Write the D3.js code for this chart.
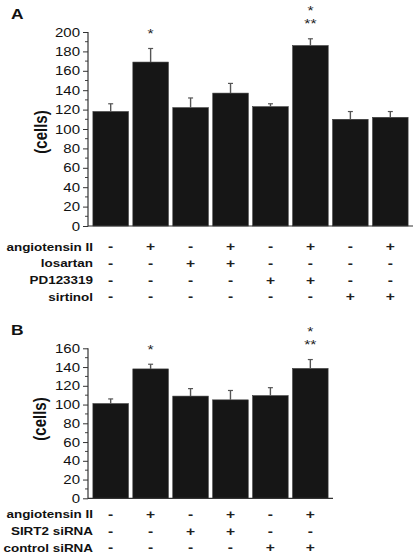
<!DOCTYPE html>
<html><head><meta charset="utf-8">
<script src="https://cdn.jsdelivr.net/npm/d3@7"></script>
<style>html,body{margin:0;padding:0;background:#fff;}svg{display:block;}</style>
</head><body>
<svg id="c" width="420" height="555"></svg>
<script>
// ---------- DATA ----------
const groupsA = ["1","2","3","4","5","6","7","8"];
const meanA = [118, 169, 122, 137, 123, 186, 110, 112];
const errA  = [126, 183, 132, 147, 126, 193, 118, 118];
const starsA = [[], ["*"], [], [], [], ["*","**"], [], []];
const rowLabelsA = ["angiotensin II", "losartan", "PD123319", "sirtinol"];
const angiotensinA = ["-","+","-","+","-","+","-","+"];
const losartanA    = ["-","-","+","+","-","-","-","-"];
const pdA          = ["-","-","-","-","+","+","-","-"];
const sirtinolA    = ["-","-","-","-","-","-","+","+"];
const ticksA = [0,20,40,60,80,100,120,140,160,180,200];

const groupsB = ["1","2","3","4","5","6"];
const meanB = [101, 138, 109, 105, 109.5, 138.5];
const errB  = [106, 143, 117, 115, 118, 148];
const starsB = [[], ["*"], [], [], [], ["*","**"]];
const rowLabelsB = ["angiotensin II", "SIRT2 siRNA", "control siRNA"];
const angiotensinB = ["-","+","-","+","-","+"];
const sirt2B       = ["-","-","+","+","-","-"];
const controlB     = ["-","-","-","-","+","+"];
const ticksB = [0,20,40,60,80,100,120,140,160];

// ---------- DRAW ----------
const svg = d3.select("#c");
const SX = 1.2;
const FONT = "Liberation Sans, Arial, Helvetica, sans-serif";

function txt(g, x, y, s, opt) {
  return g.append("text")
    .attr("transform", `translate(${x},${y}) scale(${SX},1)`)
    .attr("font-family", FONT)
    .attr("font-size", opt.size)
    .attr("font-weight", opt.weight || "normal")
    .attr("text-anchor", opt.anchor || "start")
    .attr("fill", opt.fill || "#111")
    .text(s);
}

function panel(cfg) {
  const g = svg.append("g");
  const y = d3.scaleLinear().domain([0, cfg.ymax]).range([cfg.y0, cfg.y1]);
  const x = d3.scaleBand().domain(cfg.groups).range([90.5, 90.5 + 40 * cfg.groups.length])
    .paddingInner(0.11).paddingOuter(0.06);

  // letter
  txt(g, 11, cfg.letterY, cfg.letter, {size: 14.5, weight: "bold"});

  // y axis with minor ticks
  const ax = g.append("g").attr("transform", "translate(88,0)")
    .call(d3.axisLeft(y).tickValues(cfg.ticks).tickSize(5).tickFormat(""));
  ax.select(".domain").remove();
  ax.selectAll("line").attr("stroke", "#333").attr("stroke-width", 1);
  const minors = cfg.ticks.slice(0, -1).map(t => t + 10);
  g.selectAll(null).data(minors).join("line")
    .attr("x1", 85).attr("x2", 88)
    .attr("y1", d => y(d)).attr("y2", d => y(d))
    .attr("stroke", "#444").attr("stroke-width", 1);
  g.append("line").attr("x1", 88).attr("x2", 88)
    .attr("y1", y(cfg.ymax)).attr("y2", y(0) + 0.5)
    .attr("stroke", "#333").attr("stroke-width", 1.2);
  cfg.ticks.forEach(t => txt(g, 80, y(t) + 4.5, String(t), {size: 12.5, anchor: "end"}));

  // y label
  g.append("text")
    .attr("transform", `translate(${cfg.labX},${cfg.labY}) scale(${SX},1) rotate(-90)`)
    .attr("font-family", FONT).attr("font-size", 15).attr("font-weight", "bold")
    .attr("text-anchor", "middle").attr("dy", "0.35em").attr("fill", "#111")
    .text("(cells)");

  // bars
  g.selectAll(null).data(cfg.groups).join("rect")
    .attr("x", d => x(d)).attr("width", x.bandwidth())
    .attr("y", (d, i) => y(cfg.mean[i]))
    .attr("height", (d, i) => y(0) - y(cfg.mean[i]))
    .attr("fill", "#161616").attr("stroke", "#3a3a3a").attr("stroke-width", 0.6);

  // error bars (upper)
  g.selectAll(null).data(cfg.groups).join("line")
    .attr("x1", d => x(d) + x.bandwidth() / 2).attr("x2", d => x(d) + x.bandwidth() / 2)
    .attr("y1", (d, i) => y(cfg.mean[i])).attr("y2", (d, i) => y(cfg.err[i]))
    .attr("stroke", "#555").attr("stroke-width", 1.4);
  g.selectAll(null).data(cfg.groups).join("line")
    .attr("x1", d => x(d) + x.bandwidth() / 2 - 2.5).attr("x2", d => x(d) + x.bandwidth() / 2 + 2.5)
    .attr("y1", (d, i) => y(cfg.err[i])).attr("y2", (d, i) => y(cfg.err[i]))
    .attr("stroke", "#555").attr("stroke-width", 1.2);

  // x axis line
  g.append("line").attr("x1", 88).attr("x2", x.range()[1] + 2.5)
    .attr("y1", y(0)).attr("y2", y(0)).attr("stroke", "#333").attr("stroke-width", 1.2);

  // stars
  cfg.groups.forEach((gr, i) => {
    const lines = cfg.stars[i];
    const cx = x(gr) + x.bandwidth() / 2;
    lines.slice().reverse().forEach((s, k) => {
      const cy = y(cfg.err[i]) - 17 - k * 13.5;
      txt(g, cx, cy + 6.5, s, {size: 13, anchor: "middle", fill: "#222"});
    });
  });

  // condition rows
  cfg.rows.forEach((row, r) => {
    const cy = cfg.rowY0 + r * 16.7;
    txt(g, 93, cy + 4, cfg.rowLabels[r], {size: 11.2, weight: "bold", anchor: "end"});
    cfg.groups.forEach((gr, i) => {
      txt(g, x(gr) + x.bandwidth() / 2, cy + 4.5, row[i], {size: 13, weight: "bold", anchor: "middle", fill: "#222"});
    });
  });
}

panel({letter: "A", letterY: 19, groups: groupsA, mean: meanA, err: errA, stars: starsA,
  ymax: 200, y0: 226, y1: 32, ticks: ticksA, labX: 41, labY: 132,
  rows: [angiotensinA, losartanA, pdA, sirtinolA], rowLabels: rowLabelsA, rowY0: 246.7});

panel({letter: "B", letterY: 335, groups: groupsB, mean: meanB, err: errB, stars: starsB,
  ymax: 160, y0: 498.3, y1: 348.3, ticks: ticksB, labX: 40, labY: 419,
  rows: [angiotensinB, sirt2B, controlB], rowLabels: rowLabelsB, rowY0: 514.3});
</script>
</body></html>
